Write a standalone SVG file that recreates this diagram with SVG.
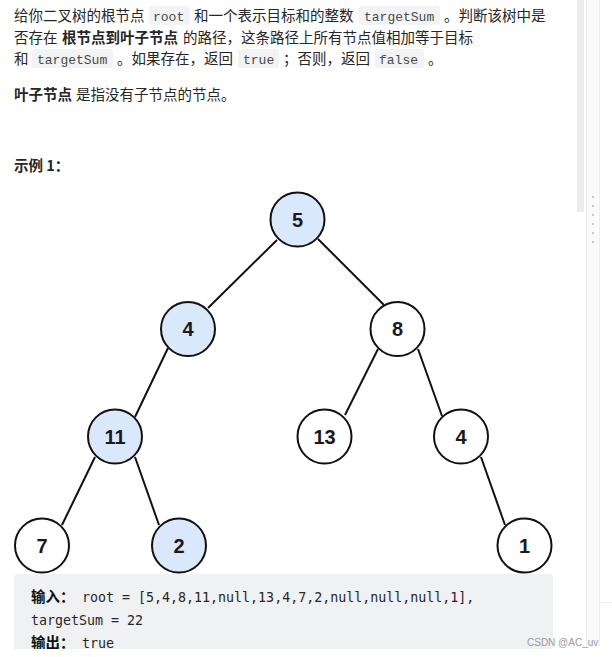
<svg xmlns="http://www.w3.org/2000/svg" width="612" height="657" viewBox="0 0 612 657">
<style>
.t{font-family:"Noto Sans CJK SC","Liberation Sans",sans-serif;font-size:14.5px;fill:#262626}
.b{font-weight:700}
.c{font-family:"Liberation Mono","Noto Sans CJK SC",monospace;font-size:13px;fill:#4a4a4a}
.p{fill:#f2f3f5}
.m{font-family:"DejaVu Sans Mono","Noto Sans CJK SC",monospace;font-size:13.3px;fill:#262626}
.mb{font-family:"Noto Sans CJK SC",sans-serif;font-size:14.5px;font-weight:700;fill:#111}
.n{stroke:#111;stroke-width:2}
.w{fill:#fff}
.h{fill:#dae8fc}
.l{font-family:"Liberation Sans",sans-serif;font-size:20px;font-weight:700;fill:#1a1a1a;text-anchor:middle}
#edges line{stroke:#111;stroke-width:2}
</style>
<rect width="612" height="657" fill="#fff"/>
<g id="chrome">
<rect x="577" y="0" width="7" height="212" fill="#ececec"/>
<rect x="587" y="0" width="12" height="646" fill="#fbfbfb"/>
<path d="M586.5 0V646M599.5 0V646M599 602.5H612" stroke="#eeeeee" fill="none"/>
<path d="M593 196v2M593 205v2M593 214v2M593 223v2M593 232v2M593 241v2" stroke="#c8c8c8" stroke-width="2"/>
</g>
<g id="text">
<rect class="p" x="149" y="6" width="41" height="19" rx="3"/>
<rect class="p" x="359" y="6" width="81" height="19" rx="3"/>
<rect class="p" x="32" y="49" width="81" height="19" rx="3"/>
<rect class="p" x="238" y="49" width="41" height="19" rx="3"/>
<rect class="p" x="375" y="49" width="49" height="19" rx="3"/>
<text class="t" x="14" y="21">给你二叉树的根节点</text>
<text class="c" x="153" y="21">root</text>
<text class="t" x="194" y="21">和一个表示目标和的整数</text>
<text class="c" x="364" y="21">targetSum</text>
<text class="t" x="444" y="21">。判断该树中是</text>
<text class="t" x="14" y="43">否存在</text>
<text class="t b" x="62" y="43">根节点到叶子节点</text>
<text class="t" x="183" y="43">的路径，这条路径上所有节点值相加等于目标</text>
<text class="t" x="14" y="64">和</text>
<text class="c" x="37" y="64">targetSum</text>
<text class="t" x="117" y="64">。如果存在，返回</text>
<text class="c" x="243" y="64">true</text>
<text class="t" x="283" y="64">；否则，返回</text>
<text class="c" x="379" y="64">false</text>
<text class="t" x="428" y="64">。</text>
<text class="t b" x="14" y="100">叶子节点</text>
<text class="t" x="76" y="100">是指没有子节点的节点。</text>
<text class="t b" x="14" y="171">示例 1：</text>
</g>
<g id="edges">
<line x1="277" y1="240" x2="208" y2="308"/>
<line x1="318" y1="239" x2="384" y2="305"/>
<line x1="168" y1="348" x2="135" y2="417"/>
<line x1="378" y1="349" x2="345" y2="415"/>
<line x1="418" y1="349" x2="442" y2="416"/>
<line x1="95" y1="457" x2="62" y2="525"/>
<line x1="135" y1="457" x2="159" y2="525"/>
<line x1="481" y1="457" x2="505" y2="525"/>
</g>
<g id="n5"><circle class="n h" cx="297.5" cy="219.5" r="27"/><text class="l" x="297.5" y="226.5">5</text></g>
<g id="n4a"><circle class="n h" cx="188" cy="329" r="27"/><text class="l" x="188" y="336">4</text></g>
<g id="n8"><circle class="n w" cx="397.5" cy="329" r="27"/><text class="l" x="397.5" y="336">8</text></g>
<g id="n11"><circle class="n h" cx="115" cy="436.5" r="27"/><text class="l" x="115" y="444">11</text></g>
<g id="n13"><circle class="n w" cx="324.5" cy="436.5" r="27"/><text class="l" x="324.5" y="444">13</text></g>
<g id="n4b"><circle class="n w" cx="461" cy="436.5" r="27"/><text class="l" x="461" y="444">4</text></g>
<g id="n7"><circle class="n w" cx="42" cy="545.5" r="27"/><text class="l" x="42" y="552.5">7</text></g>
<g id="n2"><circle class="n h" cx="179" cy="545.5" r="27"/><text class="l" x="179" y="552.5">2</text></g>
<g id="n1"><circle class="n w" cx="524.5" cy="545.5" r="27"/><text class="l" x="524.5" y="552.5">1</text></g>
<g id="code">
<path d="M14 649V578a4 4 0 0 1 4-4H549a4 4 0 0 1 4 4V649Z" fill="#f0f1f3"/>
<text class="mb" x="31" y="602">输入：</text>
<text class="m" x="82" y="602">root = [5,4,8,11,null,13,4,7,2,null,null,null,1],</text>
<text class="m" x="31" y="625">targetSum = 22</text>
<text class="mb" x="31" y="648">输出：</text>
<text class="m" x="82" y="648">true</text>
<rect x="0" y="649" width="612" height="8" fill="#fff"/>
<text x="527" y="646" font-family="Liberation Sans,sans-serif" font-size="10px" fill="#9a9a9a">CSDN @AC_uv</text>
</g>
</svg>
